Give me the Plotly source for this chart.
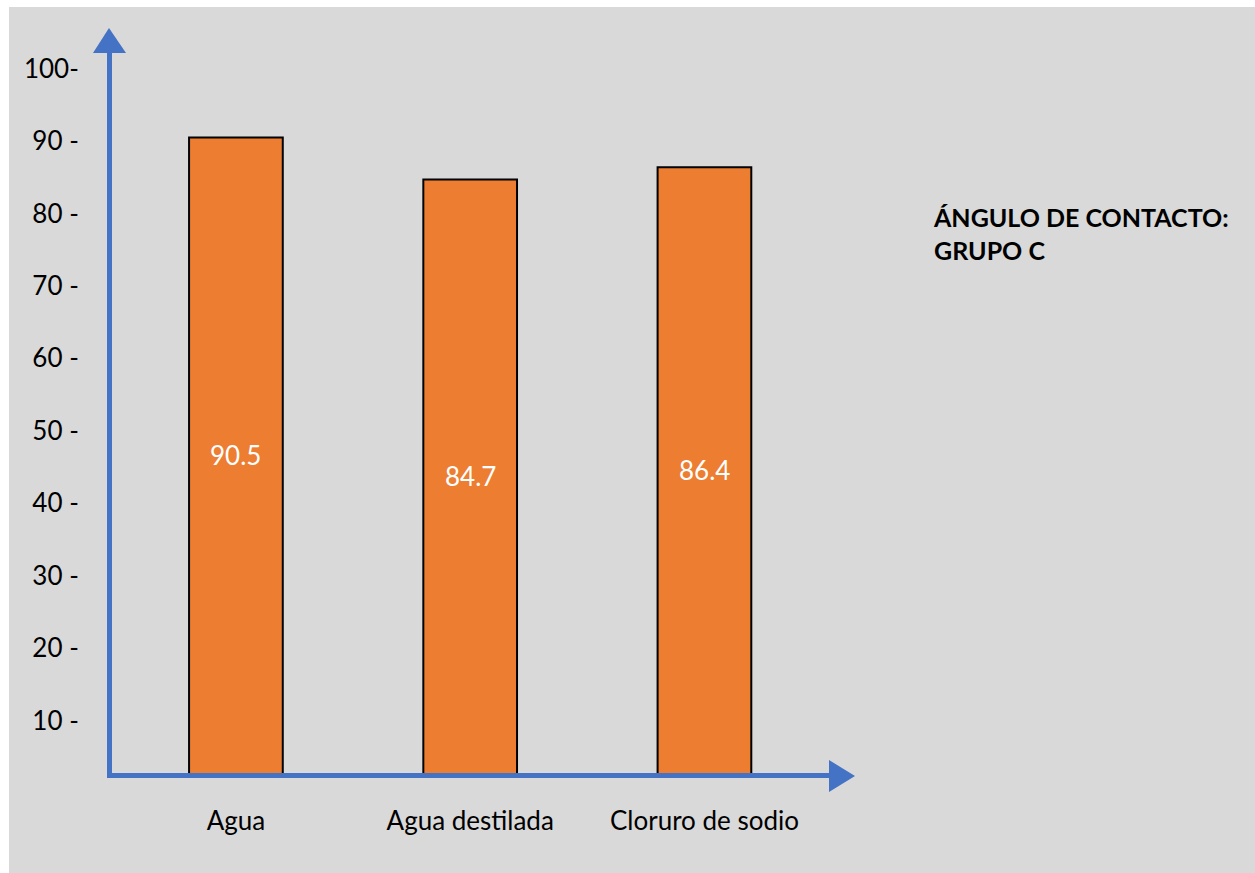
import plotly.graph_objects as go

# Datos: ángulo de contacto por solución (grupo C)
categorias = ["Agua", "Agua destilada", "Cloruro de sodio"]
angulos = [90.5, 84.7, 86.4]
marcas_y = [10, 20, 30, 40, 50, 60, 70, 80, 90, 100]
etiquetas_y = ["10 -", "20 -", "30 -", "40 -", "50 -", "60 -", "70 -", "80 -", "90 -", "100-"]

W, H = 1255, 873
ML, MR, MT, MB = 112, 425, 52, 100
AZUL = "#4472C4"
NARANJA = "#ED7D31"
GRIS = "#D9D9D9"
FUENTE = "Lato"

# rango vertical visible (el eje horizontal corta un poco por encima de 0)
Y_MIN, Y_MAX = 2.76, 102.3


def px(x):
    """Pixel horizontal -> coordenada paper."""
    return (x - ML) / (W - ML - MR)


def py(y):
    """Pixel vertical -> coordenada paper."""
    return (H - MB - y) / (H - MT - MB)


def triangulo(p1, p2, p3):
    pts = [p1, p2, p3]
    return "M " + " L ".join(f"{px(a):.5f},{py(b):.5f}" for a, b in pts) + " Z"


fig = go.Figure(
    go.Bar(
        x=categorias,
        y=angulos,
        width=0.40,
        marker=dict(color=NARANJA, line=dict(color="black", width=2)),
        hoverinfo="x+y",
    )
)

# valores centrados en la parte visible de cada barra
etiquetas_barras = [
    dict(
        x=c, y=(Y_MIN + v) / 2, xref="x", yref="y",
        text=f"{v}", showarrow=False,
        font=dict(color="white", size=26, family=FUENTE),
    )
    for c, v in zip(categorias, angulos)
]

shapes = [
    # franjas blancas del borde
    dict(type="rect", xref="paper", yref="paper", x0=px(0), x1=px(9), y0=py(H), y1=py(0),
         fillcolor="white", line=dict(width=0), layer="below"),
    dict(type="rect", xref="paper", yref="paper", x0=px(0), x1=px(W), y0=py(7), y1=py(0),
         fillcolor="white", line=dict(width=0), layer="below"),
    # puntas de flecha de los ejes
    dict(type="path", xref="paper", yref="paper",
         path=triangulo((109, 28), (93, 53), (126, 53)),
         fillcolor=AZUL, line=dict(width=0)),
    dict(type="path", xref="paper", yref="paper",
         path=triangulo((855, 776), (829, 760), (829, 792)),
         fillcolor=AZUL, line=dict(width=0)),
]

fig.update_layout(
    width=W,
    height=H,
    autosize=False,
    margin=dict(l=ML, r=MR, t=MT, b=MB),
    paper_bgcolor=GRIS,
    plot_bgcolor=GRIS,
    showlegend=False,
    font=dict(family=FUENTE, color="black"),
    shapes=shapes,
    xaxis=dict(
        type="category",
        range=[-0.529, 2.536],
        showline=True,
        linecolor=AZUL,
        linewidth=5,
        showgrid=False,
        zeroline=False,
        ticks="",
        ticklabelstandoff=21,
        tickfont=dict(size=26, family=FUENTE, color="black"),
        fixedrange=True,
    ),
    yaxis=dict(
        range=[Y_MIN, Y_MAX],
        tickvals=marcas_y,
        ticktext=etiquetas_y,
        showline=True,
        linecolor=AZUL,
        linewidth=5,
        showgrid=False,
        zeroline=False,
        ticks="",
        ticklabelstandoff=23,
        tickfont=dict(size=26, family=FUENTE, color="black"),
        fixedrange=True,
    ),
    annotations=etiquetas_barras + [
        dict(
            text="<b>ÁNGULO DE CONTACTO:<br>GRUPO C</b>",
            xref="paper", yref="paper",
            x=px(931), y=py(200),
            xanchor="left", yanchor="top",
            align="left",
            showarrow=False,
            font=dict(size=25, family=FUENTE, color="black"),
        )
    ],
)

fig.write_html("out.html")
